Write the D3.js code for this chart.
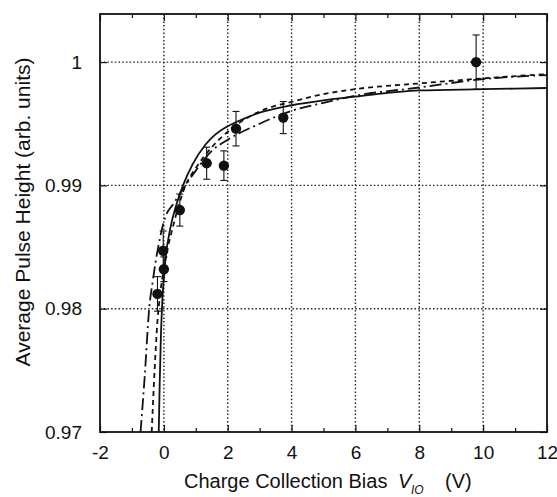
<!DOCTYPE html>
<html>
<head>
<meta charset="utf-8">
<script src="https://cdn.jsdelivr.net/npm/d3@7"></script>
<style>
  html, body { margin: 0; padding: 0; background: #fff; }
  svg { display: block; }
  text { font-family: "Liberation Sans", Arial, Helvetica, sans-serif; fill: #111; }
</style>
</head>
<body>
<svg id="chart" width="557" height="497"></svg>
<script>
// ---- data ----
const xTicks = [-2, 0, 2, 4, 6, 8, 10, 12];
const xTickLabels = ["-2", "0", "2", "4", "6", "8", "10", "12"];
const xMinorTicks = [-1, 1, 3, 5, 7, 9, 11];
const yTicks = [0.97, 0.98, 0.99, 1];
const yTickLabels = ["0.97", "0.98", "0.99", "1"];

const pointX   = [-0.20, 0.00, -0.02, 0.50, 1.34, 1.88, 2.26, 3.74, 9.78];
const pointY   = [0.9812, 0.9832, 0.9847, 0.9880, 0.9918, 0.9916, 0.9946, 0.9955, 1.0000];
const pointErr = [0.0014, 0.0010, 0.0016, 0.0013, 0.0013, 0.0012, 0.0014, 0.0013, 0.0022];

const solidX = [-0.16, -0.13, -0.09, -0.04, 0.05, 0.2, 0.4, 0.6, 0.9, 1.3, 1.6, 2.0, 2.5, 3.0, 4.0, 5.0, 6.0, 8.0, 10.0, 12.0];
const solidY = [0.970, 0.974, 0.978, 0.981, 0.984, 0.9865, 0.9885, 0.9900, 0.9917, 0.9933, 0.9941, 0.9948, 0.9954, 0.9959, 0.9965, 0.9969, 0.9972, 0.9977, 0.9978, 0.9979];

const shortX = [-0.38, -0.3, -0.2, -0.1, 0.05, 0.3, 0.68, 1.0, 1.5, 2.0, 3.0, 4.0, 5.0, 6.0, 8.0, 10.0, 12.0];
const shortY = [0.970, 0.9745, 0.979, 0.9815, 0.984, 0.9868, 0.9900, 0.9914, 0.9931, 0.99435, 0.9960, 0.99678, 0.9974, 0.99781, 0.99827, 0.99868, 0.99903];

const dashDotX = [-0.73, -0.6, -0.46, -0.35, -0.17, 0.04, 0.3, 0.6, 1.0, 1.5, 2.0, 3.0, 4.0, 5.0, 6.0, 8.0, 10.0, 12.0];
const dashDotY = [0.970, 0.9745, 0.980, 0.9822, 0.9851, 0.9874, 0.9885, 0.9897, 0.9912, 0.9928, 0.9937, 0.9950, 0.99605, 0.9967, 0.99727, 0.99794, 0.99862, 0.99895];

// ---- layout ----
const L = 100, R = 547, T = 14, B = 432;
const svg = d3.select("#chart");
const x = d3.scaleLinear().domain([-2, 12]).range([L, R]);
const y = d3.scaleLinear().domain([0.97, 1.0039]).range([B, T]);

svg.append("defs").append("clipPath").attr("id", "plotclip")
  .append("rect").attr("x", L).attr("y", T).attr("width", R - L).attr("height", B - T);

// grid
const grid = svg.append("g").attr("stroke", "#222").attr("stroke-width", 1.4)
  .attr("stroke-dasharray", "1.5,2.2");
grid.selectAll("line.v").data(xTicks.filter(d => d > -2 && d < 12)).join("line")
  .attr("x1", d => x(d)).attr("x2", d => x(d)).attr("y1", T).attr("y2", B);
grid.selectAll("line.h").data(yTicks.filter(d => d > 0.97)).join("line")
  .attr("y1", d => y(d)).attr("y2", d => y(d)).attr("x1", L).attr("x2", R);

// axes (inward ticks)
const axB = d3.axisBottom(x).tickValues(xTicks).tickSize(-7).tickPadding(14)
  .tickFormat((d, i) => xTickLabels[i]);
svg.append("g").attr("transform", `translate(0,${B})`).call(axB);
const axBm = d3.axisBottom(x).tickValues(xMinorTicks).tickSize(-4).tickFormat("");
svg.append("g").attr("transform", `translate(0,${B})`).call(axBm);
const axT = d3.axisTop(x).tickValues(xTicks).tickSize(-7).tickFormat("");
svg.append("g").attr("transform", `translate(0,${T})`).call(axT);
const axTm = d3.axisTop(x).tickValues(xMinorTicks).tickSize(-4).tickFormat("");
svg.append("g").attr("transform", `translate(0,${T})`).call(axTm);
const axL = d3.axisLeft(y).tickValues(yTicks).tickSize(-7).tickPadding(18)
  .tickFormat((d, i) => yTickLabels[i]);
svg.append("g").attr("transform", `translate(${L},0)`).call(axL);
const axR = d3.axisRight(y).tickValues(yTicks).tickSize(-7).tickFormat("");
svg.append("g").attr("transform", `translate(${R},0)`).call(axR);

svg.selectAll(".domain").remove();
svg.selectAll(".tick line").attr("stroke", "#111").attr("stroke-width", 1.2);
svg.selectAll(".tick text").attr("font-size", 19).attr("fill", "#111")
  .style("font-family", "'Liberation Sans', Arial, sans-serif");

// frame
svg.append("rect").attr("x", L).attr("y", T).attr("width", R - L).attr("height", B - T)
  .attr("fill", "none").attr("stroke", "#111").attr("stroke-width", 1.8);

// curves
const line = d3.line().x(d => x(d[0])).y(d => y(d[1])).curve(d3.curveMonotoneX);
const curves = svg.append("g").attr("clip-path", "url(#plotclip)")
  .attr("fill", "none").attr("stroke", "#111").attr("stroke-width", 1.8);
curves.append("path").datum(solidX.map((v, i) => [v, solidY[i]])).attr("d", line);
curves.append("path").datum(shortX.map((v, i) => [v, shortY[i]])).attr("d", line)
  .attr("stroke-dasharray", "5,4");
curves.append("path").datum(dashDotX.map((v, i) => [v, dashDotY[i]])).attr("d", line)
  .attr("stroke-dasharray", "12,4,2,4");

// points with error bars
const pts = pointX.map((v, i) => ({ x: v, y: pointY[i], e: pointErr[i] }));
const eb = svg.append("g").attr("stroke", "#111").attr("stroke-width", 1.1);
eb.selectAll("line.bar").data(pts).join("line")
  .attr("x1", d => x(d.x)).attr("x2", d => x(d.x))
  .attr("y1", d => y(d.y - d.e)).attr("y2", d => y(d.y + d.e));
eb.selectAll("line.capTop").data(pts).join("line")
  .attr("x1", d => x(d.x) - 3.5).attr("x2", d => x(d.x) + 3.5)
  .attr("y1", d => y(d.y + d.e)).attr("y2", d => y(d.y + d.e));
eb.selectAll("line.capBot").data(pts).join("line")
  .attr("x1", d => x(d.x) - 3.5).attr("x2", d => x(d.x) + 3.5)
  .attr("y1", d => y(d.y - d.e)).attr("y2", d => y(d.y - d.e));
svg.append("g").selectAll("circle").data(pts).join("circle")
  .attr("cx", d => x(d.x)).attr("cy", d => y(d.y)).attr("r", 5.2).attr("fill", "#111");

// axis titles
svg.append("text").attr("x", 184).attr("y", 488).attr("font-size", 20).text("Charge Collection Bias");
svg.append("text").attr("x", 398).attr("y", 488).attr("font-size", 20).attr("font-style", "italic").text("V");
svg.append("text").attr("x", 411).attr("y", 494).attr("font-size", 12).attr("font-style", "italic").text("IO");
svg.append("text").attr("x", 445).attr("y", 488).attr("font-size", 20).text("(V)");

svg.append("text").attr("transform", "translate(30,212) rotate(-90)")
  .attr("text-anchor", "middle").attr("font-size", 21)
  .text("Average Pulse Height (arb. units)");
</script>
</body>
</html>
